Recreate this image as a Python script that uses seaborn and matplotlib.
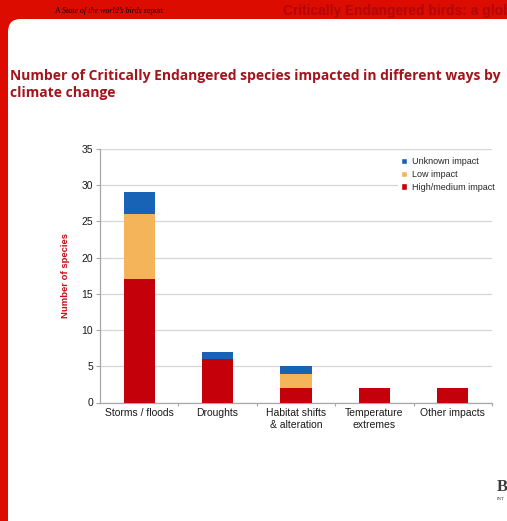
import matplotlib
matplotlib.use("Agg")
import matplotlib.pyplot as plt
from matplotlib.patches import FancyBboxPatch, Patch
import seaborn as sns
import pandas as pd
import numpy as np

# Data: number of Critically Endangered species by climate-change impact type
categories = ["Storms / floods", "Droughts", "Habitat shifts\n& alteration",
              "Temperature\nextremes", "Other impacts"]
high_medium = [17, 6, 2, 2, 2]
low = [9, 0, 2, 0, 0]
unknown = [3, 1, 1, 0, 0]
y_ticks = [0, 5, 10, 15, 20, 25, 30, 35]

RED = "#c4000b"
ORANGE = "#f4b459"
BLUE = "#1863b5"
FRAME = "#dc0c00"
TITLE = "#a3141c"

df = pd.DataFrame({
    "category": categories,
    "high": high_medium,
    "high_low": np.add(high_medium, low),
    "total": np.add(np.add(high_medium, low), unknown),
})

sns.set_theme(style="white")
plt.rcParams["font.family"] = ["Liberation Sans", "DejaVu Sans"]

W, H = 507, 521
fig = plt.figure(figsize=(W / 100, H / 100), dpi=100)
fig.patch.set_facecolor(FRAME)

# White page panel with a rounded top-left corner
panel = FancyBboxPatch((8 / W, -0.1), 1.2, (H - 19) / H + 0.1,
                       boxstyle="round,pad=0,rounding_size=0.025",
                       transform=fig.transFigure, facecolor="white",
                       edgecolor="none", zorder=-10)
fig.patches.append(panel)

# Header strip text: roman / italic / roman runs laid out side by side
renderer = fig.canvas.get_renderer()
x = 55
for txt, sty in [("A ", "normal"), ("State of the world\u2019s birds", "italic"),
                 (" report", "normal")]:
    t = fig.text(x / W, 1 - 11 / H, txt, fontsize=5.8, family="Liberation Serif",
                 style=sty, color="black", va="center", ha="left")
    x += t.get_window_extent(renderer).width
fig.text(283 / W, 1 - 11 / H, "Critically Endangered birds: a global audit",
         fontsize=9.9, fontweight="bold", color="#b3060a",
         va="center", ha="left", family="Liberation Sans")

# Chart title
fig.text(10 / W, 1 - 69 / H,
         "Number of Critically Endangered species impacted in different ways by\nclimate change",
         fontsize=10, fontweight="bold", color=TITLE, va="top", ha="left",
         family="Open Sans", linespacing=1.25)

# Logo fragment, bottom right
fig.text(497 / W, 1 - 487 / H, "B", fontsize=12, fontweight="bold",
         family="Liberation Serif", color="#3c3c3c", va="center", ha="left")
fig.text(497 / W, 1 - 499 / H, "INT", fontsize=3.5,
         family="Liberation Serif", color="#3c3c3c", va="center", ha="left")

ax = fig.add_axes([100 / W, 1 - 402.5 / H, 392 / W, (402.5 - 149) / H])
ax.set_facecolor("white")

# Stacked bars drawn as overlapping cumulative totals
sns.barplot(data=df, x="category", y="total", color=BLUE, width=0.4,
            saturation=1, ax=ax, zorder=3)
sns.barplot(data=df, x="category", y="high_low", color=ORANGE, width=0.4,
            saturation=1, ax=ax, zorder=3)
sns.barplot(data=df, x="category", y="high", color=RED, width=0.4,
            saturation=1, ax=ax, zorder=3)
for p in ax.patches:
    p.set_edgecolor("none")

ax.set_ylim(0, 35)
ax.set_xlim(-0.5, 4.5)
ax.set_yticks(y_ticks)
ax.yaxis.grid(True, color="#d6d6d6", linewidth=0.9, zorder=0)
ax.set_axisbelow(True)

ax.set_xlabel("")
ax.set_ylabel("Number of species", fontsize=6.8, fontweight="bold",
              color="#c4101c", labelpad=8)

for side in ["top", "right"]:
    ax.spines[side].set_visible(False)
for side in ["left", "bottom"]:
    ax.spines[side].set_color("#a8a8a8")
    ax.spines[side].set_linewidth(0.9)

ax.tick_params(axis="y", labelsize=7.5, left=True, length=3, width=0.8,
               color="#a8a8a8", pad=2, labelcolor="#1a1a1a")
ax.tick_params(axis="x", which="major", labelsize=7.5, bottom=False, length=0,
               pad=4, labelcolor="#1a1a1a")
ax.set_xticks(range(len(categories)))
ax.set_xticklabels(categories, linespacing=1.3)
# Small separator ticks between categories
ax.set_xticks(np.arange(0.5, len(categories), 1.0), minor=True)
ax.tick_params(axis="x", which="minor", bottom=True, length=2, width=0.8,
               color="#a8a8a8")

handles = [Patch(facecolor=BLUE, label="Unknown impact"),
           Patch(facecolor=ORANGE, label="Low impact"),
           Patch(facecolor=RED, label="High/medium impact")]
leg = ax.legend(handles=handles, loc="upper right", bbox_to_anchor=(1.025, 0.995),
                fontsize=6.5, frameon=True, facecolor="white", edgecolor="none",
                framealpha=1, handlelength=0.7, handleheight=0.7,
                handletextpad=0.5, labelspacing=0.4, borderpad=0.3)
leg.set_zorder(5)

fig.savefig("out.png", dpi=100, facecolor=fig.get_facecolor())
